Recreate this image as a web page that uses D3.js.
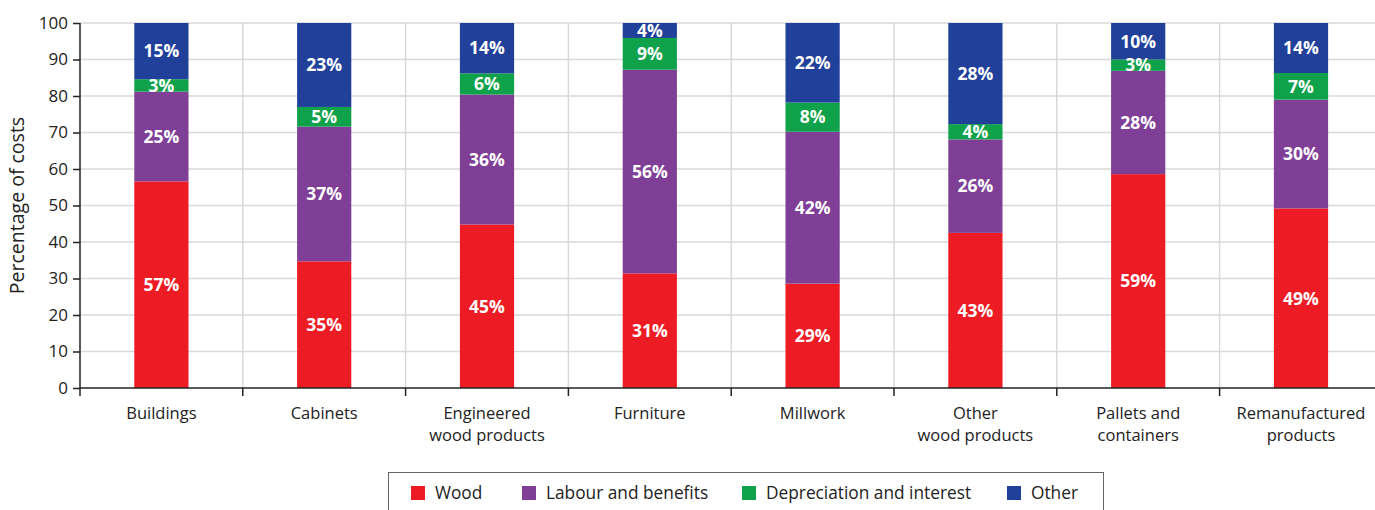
<!DOCTYPE html>
<html>
<head>
<meta charset="utf-8">
<script src="https://cdn.jsdelivr.net/npm/d3@7"></script>
<style>
  html, body { margin: 0; padding: 0; background: #fff; }
  svg { display: block; font-family: "Open Sans", "Noto Sans", sans-serif; }
</style>
</head>
<body>
<svg id="chart" width="1375" height="510"></svg>
<script>
const categories = [
  ["Buildings"],
  ["Cabinets"],
  ["Engineered", "wood products"],
  ["Furniture"],
  ["Millwork"],
  ["Other", "wood products"],
  ["Pallets and", "containers"],
  ["Remanufactured", "products"]
];
const seriesNames = ["Wood", "Labour and benefits", "Depreciation and interest", "Other"];
const wood         = [56.6, 34.7, 44.8, 31.4, 28.6, 42.5, 58.6, 49.2];
const labour       = [24.6, 36.9, 35.6, 55.8, 41.6, 25.6, 28.3, 29.8];
const depreciation = [3.4, 5.4, 5.8, 8.7, 8.0, 4.2, 3.1, 7.3];
const other        = [15.4, 23.0, 13.8, 4.1, 21.8, 27.7, 10.0, 13.7];
const yTicks = [0, 10, 20, 30, 40, 50, 60, 70, 80, 90, 100];
const colors = ["#ed1c24", "#7f3f97", "#10a14b", "#21409a"];

const seriesValues = [wood, labour, depreciation, other];
const keys = categories.map(c => c.join(" "));
const rows = keys.map((k, i) => {
  const r = { key: k };
  seriesNames.forEach((s, j) => r[s] = seriesValues[j][i]);
  return r;
});
const stacked = d3.stack().keys(seriesNames)(rows);

const svg = d3.select("#chart");
const mLeft = 80, mTop = 23, mBottom = 388;
const bandW = 162.8;
const x = d3.scaleBand().domain(keys).range([mLeft, mLeft + bandW * keys.length]).padding(0);
const y = d3.scaleLinear().domain([0, 100]).range([mBottom, mTop]);
const barW = x.bandwidth() * 0.333;

// horizontal grid
svg.append("g").selectAll("line").data(yTicks.filter(t => t > 0)).join("line")
  .attr("x1", mLeft).attr("x2", 1375)
  .attr("y1", d => y(d)).attr("y2", d => y(d))
  .attr("stroke", "#d9d9d9").attr("stroke-width", 1.5);
// vertical grid
svg.append("g").selectAll("line").data(keys.slice(1)).join("line")
  .attr("x1", d => x(d)).attr("x2", d => x(d))
  .attr("y1", mTop).attr("y2", mBottom)
  .attr("stroke", "#d9d9d9").attr("stroke-width", 1.5);

// bars
const layer = svg.append("g").selectAll("g").data(stacked).join("g")
  .attr("fill", (d, i) => colors[i]);
layer.selectAll("rect").data(d => d).join("rect")
  .attr("x", d => x(d.data.key) + (x.bandwidth() - barW) / 2)
  .attr("width", barW)
  .attr("y", d => y(d[1]))
  .attr("height", d => y(d[0]) - y(d[1]));

// value labels
const lab = svg.append("g");
stacked.forEach(s => {
  s.forEach(d => {
    lab.append("text")
      .attr("x", x(d.data.key) + x.bandwidth() / 2)
      .attr("y", (y(d[0]) + y(d[1])) / 2)
      .attr("dy", "0.36em")
      .attr("text-anchor", "middle")
      .attr("fill", "#fff")
      .attr("font-weight", "bold")
      .attr("font-size", 17.5)
      .text(Math.round(d[1] - d[0]) + "%");
  });
});

// y axis
const yAxis = svg.append("g").attr("transform", `translate(${mLeft},0)`)
  .call(d3.axisLeft(y).tickValues(yTicks).tickSize(7).tickPadding(5));
yAxis.select(".domain").attr("stroke", "#222").attr("stroke-width", 1.5).attr("d", `M0,${mTop}V${mBottom}`);
yAxis.selectAll(".tick line").attr("stroke", "#222").attr("stroke-width", 1.5);
yAxis.selectAll(".tick text").attr("fill", "#222").attr("font-size", 17).attr("font-family", "Open Sans");

// x axis
const xAxis = svg.append("g").attr("transform", `translate(0,${mBottom})`);
xAxis.append("line").attr("x1", mLeft).attr("x2", 1375).attr("y1", 0).attr("y2", 0)
  .attr("stroke", "#222").attr("stroke-width", 1.5);
xAxis.selectAll("line.tk").data(keys).join("line").attr("class", "tk")
  .attr("x1", d => x(d)).attr("x2", d => x(d)).attr("y1", 0).attr("y2", 8)
  .attr("stroke", "#222").attr("stroke-width", 1.5);
xAxis.selectAll("text").data(categories).join("text")
  .attr("x", (d, i) => x(keys[i]) + x.bandwidth() / 2)
  .attr("y", 31)
  .attr("text-anchor", "middle")
  .attr("fill", "#222").attr("font-size", 16.5)
  .each(function(d) {
    const cx = d3.select(this).attr("x");
    d3.select(this).selectAll("tspan").data(d).join("tspan")
      .attr("x", cx)
      .attr("dy", (t, j) => j === 0 ? 0 : 22)
      .text(t => t);
  });

// y title
svg.append("text")
  .attr("transform", `translate(24,${(mTop + mBottom) / 2}) rotate(-90)`)
  .attr("text-anchor", "middle")
  .attr("fill", "#222").attr("font-size", 19.5)
  .text("Percentage of costs");

// legend
const lg = svg.append("g");
lg.append("rect").attr("x", 388.5).attr("y", 472.5).attr("width", 715).attr("height", 50)
  .attr("fill", "none").attr("stroke", "#666").attr("stroke-width", 1);
const legX = [411, 522, 742, 1007];
seriesNames.forEach((s, i) => {
  lg.append("rect").attr("x", legX[i]).attr("y", 486).attr("width", 14).attr("height", 14)
    .attr("fill", colors[i]);
  lg.append("text").attr("x", legX[i] + 24).attr("y", 499)
    .attr("fill", "#222").attr("font-size", 17.3).text(s);
});
</script>
</body>
</html>
